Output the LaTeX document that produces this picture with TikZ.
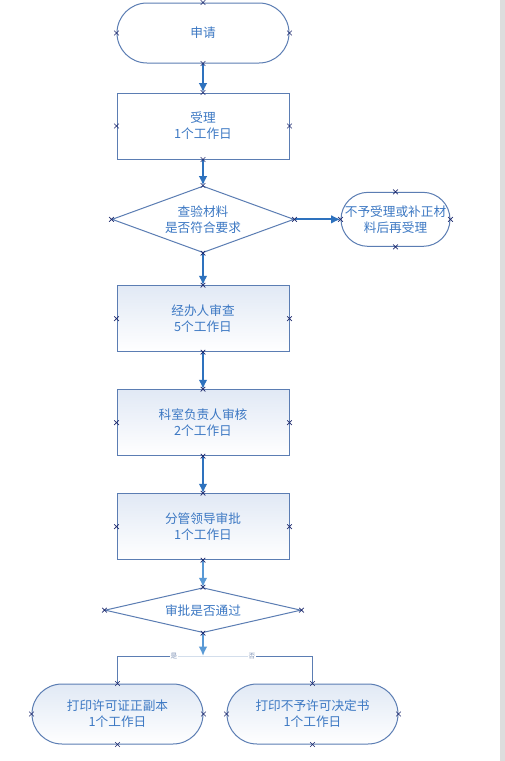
\documentclass[tikz,border=0pt]{standalone}
\usepackage{fontspec}
\newfontfamily\cjk{Noto Sans CJK SC}
\usetikzlibrary{positioning,shapes.geometric,shapes.misc,arrows.meta}

\definecolor{edgeblue}{HTML}{5B7DB3}
\definecolor{flowblue}{HTML}{2E72BE}
\definecolor{paleflow}{HTML}{5A9AD6}
\definecolor{textblue}{HTML}{3C78C3}
\definecolor{markblue}{HTML}{1E2A6E}
\definecolor{shadetop}{HTML}{E1E9F5}
\definecolor{faintblue}{HTML}{D3DEEC}
\definecolor{labelblue}{HTML}{8296B8}
\definecolor{stripgray}{HTML}{DDDDDD}

\tikzset{
  base/.style={draw=edgeblue,line width=0.75pt,text=textblue,align=center,font=\cjk\fontsize{9.5}{12}\selectfont},
  stepbox/.style={base,rectangle,minimum width=129pt,minimum height=49.5pt},
  shadebox/.style={stepbox,top color=shadetop,bottom color=white},
  terminal/.style={base,rectangle,rounded corners=22.5pt,minimum width=129pt,minimum height=45pt},
  shadeterminal/.style={terminal,top color=shadetop,bottom color=white},
  decision/.style={base,diamond,inner sep=0pt},
  flow/.style={flowblue,line width=1.5pt,-{Latex[length=7pt,width=6.5pt]}},
  paleflowline/.style={flow,paleflow},
  branch/.style={edgeblue,line width=0.75pt},
  faintbranch/.style={faintblue,line width=0.75pt},
  branchlabel/.style={fill=white,inner sep=0.5pt,text=labelblue,font=\cjk\fontsize{5}{6}\selectfont},
  xmark/.style={cross out,draw=markblue,line width=0.5pt,minimum size=3pt,inner sep=0pt}
}

\begin{document}
\begin{tikzpicture}[x=0.75pt,y=-0.75pt]
  \useasboundingbox (0,0) rectangle (505,761);
  \fill[white] (0,0) rectangle (505,761);
  \fill[stripgray] (500,0) rectangle (505,761);

  % main column
  \node[terminal] (apply) at (203,33) {申请};
  \node[stepbox,below=21.75pt of apply] (accept) {受理\\1个工作日};
  \node[decision,minimum width=136.5pt,minimum height=50pt,aspect=2.7,below=19.5pt of accept] (check) {查验材料\\是否符合要求};
  \node[terminal,minimum width=81.75pt,minimum height=40.5pt,rounded corners=20.25pt,inner sep=1pt,right=34.5pt of check] (reject) {不予受理或补正材\\料后再受理};
  \node[shadebox,below=24pt of check] (handle) {经办人审查\\5个工作日};
  \node[shadebox,below=27.75pt of handle] (section) {科室负责人审核\\2个工作日};
  \node[shadebox,below=27.75pt of section] (leader) {分管领导审批\\1个工作日};
  \node[decision,minimum width=147pt,minimum height=33.75pt,aspect=4.3,below=20.25pt of leader] (approve) {审批是否通过};

  % results
  \coordinate (split) at (203,656);
  \node[shadeterminal,minimum width=128.25pt] (printok) at (117.5,714) {打印许可证正副本\\1个工作日};
  \node[shadeterminal,minimum width=128.25pt] (printno) at (312.5,714) {打印不予许可决定书\\1个工作日};
  \node[branchlabel] (yeslbl) at (174,656) {是};
  \node[branchlabel] (nolbl) at (252,656) {否};

  % connectors
  \draw[flow] (apply) -- (accept);
  \draw[flow] (accept) -- (check);
  \draw[flow] (check) -- (reject);
  \draw[flow] (check) -- (handle);
  \draw[flow] (handle) -- (section);
  \draw[flow] (section) -- (leader);
  \draw[paleflowline] (leader) -- (approve);
  \draw[paleflowline] (approve) -- (split);
  \draw[faintbranch] (yeslbl) -- (nolbl);
  \draw[branch] (yeslbl) -| (printok.north);
  \draw[branch] (nolbl) -| (printno.north);

  % connection points
  \foreach \n in {apply,accept,check,reject,handle,section,leader,approve,printok,printno}
    \foreach \a in {north,south,east,west}
      \node[xmark] (\n-\a) at (\n.\a) {};
\end{tikzpicture}
\end{document}
